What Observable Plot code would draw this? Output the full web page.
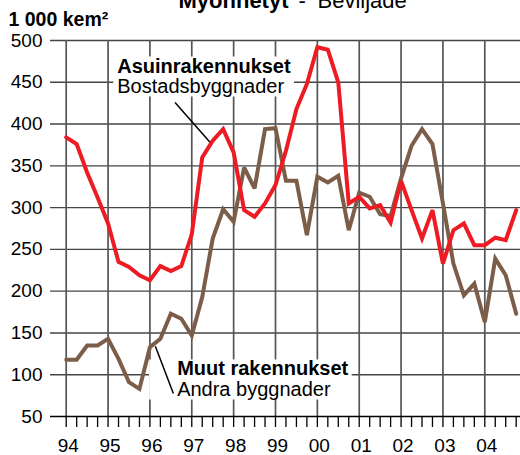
<!DOCTYPE html>
<html><head><meta charset="utf-8">
<script src="https://cdn.jsdelivr.net/npm/d3@7"></script>
<script src="https://cdn.jsdelivr.net/npm/@observablehq/plot@0.6"></script>
<style>
body{margin:0;background:#fff;}
#chart{width:520px;height:455px;overflow:hidden;position:relative;}
</style></head><body><div id="chart"></div>
<script>
// ---- data (quarterly, 1994Q1 .. 2004Q4), 1 000 m³
const startYear = 1994;
const asuin = [384, 376, 342, 312, 281, 235, 229, 219, 213, 230, 224, 230,
               268, 360, 380, 394, 366, 297, 289, 305, 327, 368, 418, 448,
               492, 489, 450, 305, 313, 299, 303, 282, 332, 297, 263, 297,
               233, 273, 281, 255, 255, 264, 261, 297];
const muut  = [118, 118, 135, 135, 143, 119, 91, 83, 133, 143, 173, 167,
               147, 193, 263, 298, 283, 348, 323, 394, 395, 332, 332, 267,
               337, 330, 338, 273, 318, 313, 292, 290, 335, 374, 394, 376,
               305, 233, 195, 209, 163, 239, 219, 173];
const years = [1994, 1995, 1996, 1997, 1998, 1999, 2000, 2001, 2002, 2003, 2004];
const yearLabels = ["94","95","96","97","98","99","00","01","02","03","04"];
const yTicks = [50, 100, 150, 200, 250, 300, 350, 400, 450, 500];
const titleBold = "Myönnetyt";
const titleSep = "-";
const titleRegular = "Beviljade";
const unitLabel = "1 000 kem²";
const asuinFi = "Asuinrakennukset", asuinSv = "Bostadsbyggnader";
const muutFi = "Muut rakennukset", muutSv = "Andra byggnader";

const periods = asuin.map((_, i) => startYear + i / 4);
const quarterTicks = d3.range(years[0], years[years.length - 1] + 1, 0.25);
const rowsA = periods.map((t, i) => ({t, v: asuin[i]}));
const rowsM = periods.map((t, i) => ({t, v: muut[i]}));

const fontFamily = '"Liberation Sans", Arial, Helvetica, sans-serif';
const RED = "#ed1c24", BROWN = "#7c5e48";

const chart = Plot.plot({
  width: 520, height: 455,
  marginTop: 40, marginBottom: 39, marginLeft: 50, marginRight: 0,
  style: {fontFamily, fontSize: "19px", background: "#fff", color: "#000", overflow: "visible"},
  x: {domain: [1993.625, 2004.853]},
  y: {domain: [50, 500]},
  marks: [
    Plot.ruleY(yTicks.filter(d => d > 50), {stroke: "#444", strokeWidth: 1.4}),
    Plot.ruleX(years, {y1: 50, y2: 500, stroke: "#555", strokeWidth: 1.7}),
    Plot.axisY(yTicks, {tickSize: 0, tickPadding: 8, label: null, fontSize: 19}),
    Plot.axisX(quarterTicks, {tickSize: 11, tickFormat: () => "", label: null, stroke: "#000", strokeWidth: 1.3}),
    Plot.axisX(years, {tickSize: 0, tickPadding: 22, label: null, dx: 2, fontSize: 19,
      tickFormat: d => yearLabels[years.indexOf(d)]}),
    Plot.ruleY([50], {stroke: "#000", strokeWidth: 1.6}),
    // annotations
    Plot.text([asuinFi], {x: 1995.22, y: 461.7, text: d => d, textAnchor: "start", lineAnchor: "bottom",
      fontWeight: "bold", fontSize: 20}),
    Plot.text([asuinSv], {x: 1995.22, y: 436.6, text: d => d, textAnchor: "start", lineAnchor: "bottom",
      fontSize: 20}),
    Plot.text([muutFi], {x: 1996.65, y: 99.1, text: d => d, textAnchor: "start", lineAnchor: "bottom",
      fontWeight: "bold", fontSize: 20}),
    Plot.text([muutSv], {x: 1996.65, y: 75.1, text: d => d, textAnchor: "start", lineAnchor: "bottom",
      fontSize: 20}),
    Plot.link([asuinFi], {x1: 1996.60, y1: 425.8, x2: 1997.44, y2: 378, stroke: "#000", strokeWidth: 1.5}),
    Plot.link([muutFi], {x1: 1996.13, y1: 134, x2: 1996.56, y2: 77.5, stroke: "#000", strokeWidth: 1.5}),
    // title + unit
    Plot.text([titleBold], {frameAnchor: "top-left", dx: 128, dy: -33, text: d => d, textAnchor: "start",
      lineAnchor: "bottom", fontWeight: "bold", fontSize: 22}),
    Plot.text([titleSep], {frameAnchor: "top-left", dx: 248, dy: -33, text: d => d, textAnchor: "start",
      lineAnchor: "bottom", fontSize: 22}),
    Plot.text([titleRegular], {frameAnchor: "top-left", dx: 267, dy: -33, text: d => d, textAnchor: "start",
      lineAnchor: "bottom", fontSize: 22}),
    Plot.text([unitLabel], {frameAnchor: "top-left", dx: -42, dy: -15, text: d => d, textAnchor: "start",
      lineAnchor: "bottom", fontWeight: "bold", fontSize: 19.5}),
    // series
    Plot.line(rowsM, {x: "t", y: "v", stroke: BROWN, strokeWidth: 4, strokeLinejoin: "miter", strokeMiterlimit: 3}),
    Plot.line(rowsA, {x: "t", y: "v", stroke: RED, strokeWidth: 4, strokeLinejoin: "miter", strokeMiterlimit: 3})
  ]
});
document.getElementById("chart").appendChild(chart);

// white boxes behind the annotation labels
function findText(s) {
  return Array.from(chart.querySelectorAll("text")).find(t => t.textContent === s);
}
function boxify(labels, pad) {
  const svgRect = chart.getBoundingClientRect();
  const ts = labels.map(findText).filter(Boolean);
  if (!ts.length) return;
  let x0 = Infinity, y0 = Infinity, x1 = -Infinity, y1 = -Infinity;
  for (const t of ts) {
    const r = t.getBoundingClientRect();
    x0 = Math.min(x0, r.left - svgRect.left); y0 = Math.min(y0, r.top - svgRect.top);
    x1 = Math.max(x1, r.right - svgRect.left); y1 = Math.max(y1, r.bottom - svgRect.top);
  }
  const rect = document.createElementNS("http://www.w3.org/2000/svg", "rect");
  rect.setAttribute("x", x0 - pad[3]); rect.setAttribute("y", y0 - pad[0]);
  rect.setAttribute("width", x1 - x0 + pad[1] + pad[3]); rect.setAttribute("height", y1 - y0 + pad[0] + pad[2]);
  rect.setAttribute("fill", "#fff");
  const g = ts[0].parentNode;
  g.parentNode.insertBefore(rect, g);
}
boxify([asuinFi, asuinSv], [-2, 3, -1, 4]);
boxify([muutFi, muutSv], [-2, 3, 0, 28]);
</script></body></html>
